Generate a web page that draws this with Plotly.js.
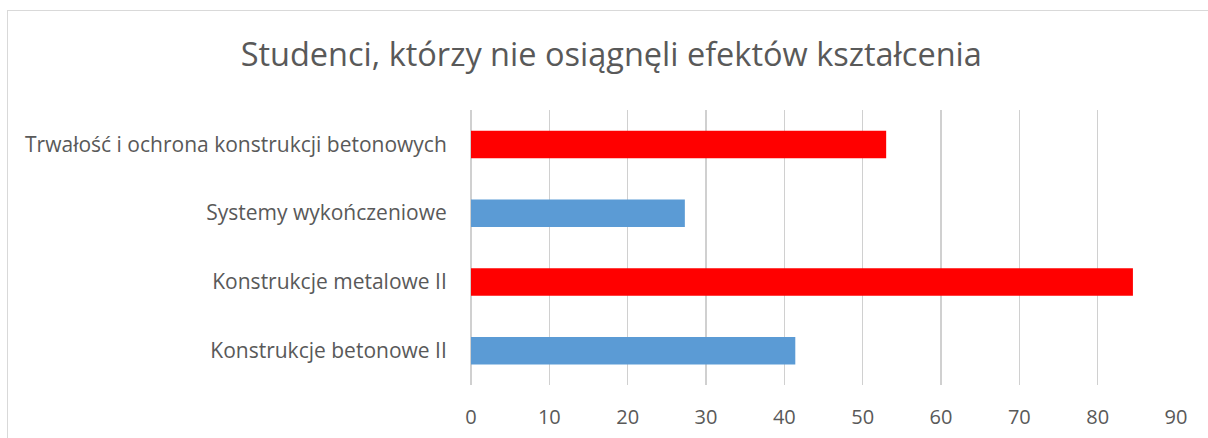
<!DOCTYPE html>
<html>
<head>
<meta charset="utf-8">
<script src="https://cdn.plot.ly/plotly-3.0.1.min.js"></script>
<style>
html,body{margin:0;padding:0;background:#fff;overflow:hidden;}
#frame{position:absolute;left:7px;top:10px;width:1300px;height:500px;border-left:1px solid #d9d9d9;border-top:1px solid #d9d9d9;}
#chart{position:absolute;left:0;top:0;width:1208px;height:438px;}
</style>
</head>
<body>
<div id="frame"></div>
<div id="chart"></div>
<script>
const categories = ['Konstrukcje betonowe II', 'Konstrukcje metalowe II', 'Systemy wykończeniowe', 'Trwałość i ochrona konstrukcji betonowych'];
const values = [41.4, 84.5, 27.3, 53.0];
const tickValues = [0, 10, 20, 30, 40, 50, 60, 70, 80, 90];
const barColors = ['#5b9bd5', '#ff0000', '#5b9bd5', '#ff0000'];

const trace = {
  type: 'bar',
  orientation: 'h',
  x: values,
  y: categories,
  marker: {color: barColors},
  hoverinfo: 'x+y'
};

const layout = {
  width: 1208,
  height: 438,
  paper_bgcolor: 'rgba(0,0,0,0)',
  plot_bgcolor: 'rgba(0,0,0,0)',
  margin: {l: 471, r: 32, t: 110, b: 53, pad: 0},
  bargap: 0.6,
  showlegend: false,
  font: {family: 'Open Sans, sans-serif', color: '#595959', size: 20},
  title: {
    text: 'Studenci, którzy nie osiągnęli efektów kształcenia',
    font: {family: 'Open Sans, sans-serif', size: 32.5, color: '#595959'},
    x: 0.506, xanchor: 'center',
    y: 0.875, yanchor: 'middle'
  },
  xaxis: {
    range: [0, 90],
    tickvals: tickValues,
    ticktext: tickValues.map(String),
    showgrid: true,
    gridcolor: '#d0d0d0',
    gridwidth: 1.3,
    zeroline: true,
    zerolinecolor: '#d0d0d0',
    zerolinewidth: 1.3,
    showline: false,
    ticks: 'outside',
    ticklen: 14,
    tickcolor: 'rgba(0,0,0,0)',
    tickfont: {size: 20, color: '#595959'},
    fixedrange: true
  },
  yaxis: {
    type: 'category',
    categoryorder: 'array',
    categoryarray: categories,
    showgrid: false,
    zeroline: false,
    showline: false,
    ticks: 'outside',
    ticklen: 19,
    tickcolor: 'rgba(0,0,0,0)',
    tickfont: {size: 21, color: '#595959'},
    fixedrange: true
  }
};

Plotly.newPlot('chart', [trace], layout, {displayModeBar: false, staticPlot: true});
</script>
</body>
</html>
